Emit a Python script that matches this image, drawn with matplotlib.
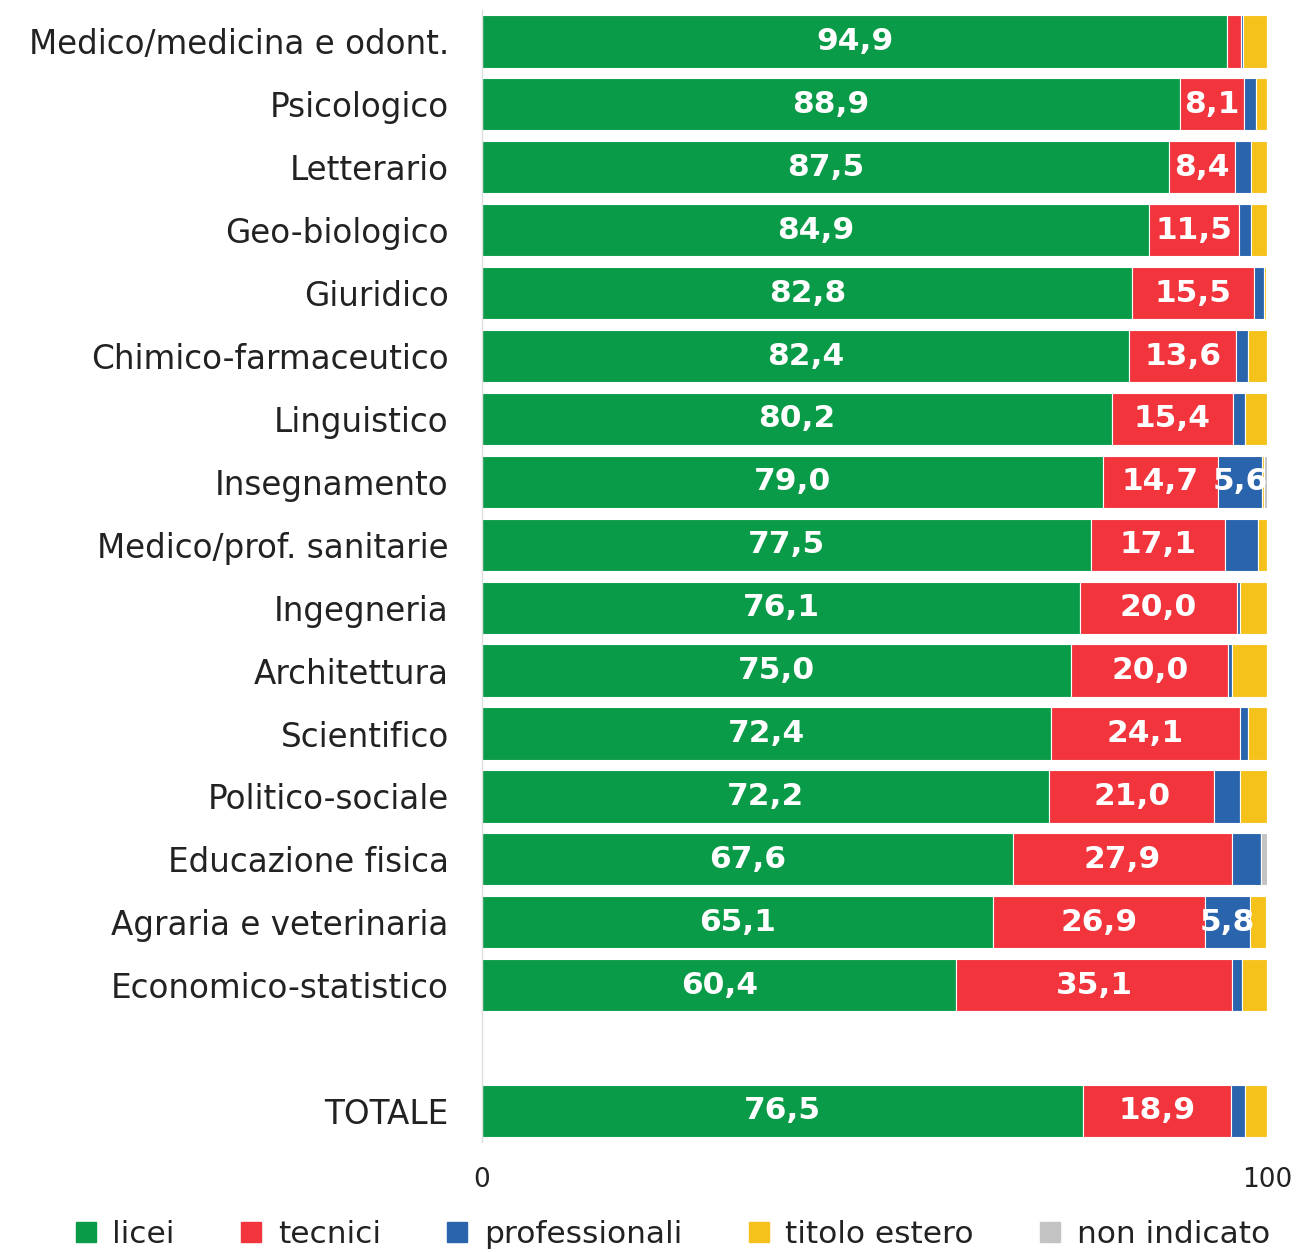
import matplotlib
matplotlib.use("Agg")
import matplotlib.pyplot as plt
from matplotlib.lines import Line2D

categories = ["Medico/medicina e odont.", "Psicologico", "Letterario", "Geo-biologico",
              "Giuridico", "Chimico-farmaceutico", "Linguistico", "Insegnamento",
              "Medico/prof. sanitarie", "Ingegneria", "Architettura", "Scientifico",
              "Politico-sociale", "Educazione fisica", "Agraria e veterinaria",
              "Economico-statistico", "TOTALE"]
licei = [94.9, 88.9, 87.5, 84.9, 82.8, 82.4, 80.2, 79.0, 77.5, 76.1, 75.0, 72.4, 72.2, 67.6, 65.1, 60.4, 76.5]
tecnici = [1.7, 8.1, 8.4, 11.5, 15.5, 13.6, 15.4, 14.7, 17.1, 20.0, 20.0, 24.1, 21.0, 27.9, 26.9, 35.1, 18.9]
professionali = [0.3, 1.6, 2.0, 1.5, 1.2, 1.5, 1.5, 5.6, 4.2, 0.4, 0.5, 1.0, 3.3, 3.7, 5.8, 1.2, 1.8]
titolo_estero = [3.0, 1.3, 2.0, 2.0, 0.3, 2.4, 2.8, 0.2, 1.1, 3.4, 4.4, 2.4, 3.4, 0.0, 2.0, 3.2, 2.7]
non_indicato = [0.1, 0.1, 0.1, 0.1, 0.2, 0.1, 0.1, 0.5, 0.1, 0.1, 0.1, 0.1, 0.1, 0.8, 0.2, 0.1, 0.1]
series_names = ["licei", "tecnici", "professionali", "titolo estero", "non indicato"]
xtick_labels = ["0", "100"]

colors = ["#0a9b48", "#f2353d", "#2a64ad", "#f5c21b", "#c3c3c3"]
series = [licei, tecnici, professionali, titolo_estero, non_indicato]

fig = plt.figure(figsize=(12.96, 12.52), dpi=100)
ax = fig.add_axes([0.372, 0.0875, 0.606, 0.9045])

positions = list(range(16)) + [17]
left = [0.0] * len(categories)
for vals, col in zip(series, colors):
    ax.barh(positions, vals, left=left, height=0.83, color=col,
            edgecolor="white", linewidth=0.8)
    for p, v, l in zip(positions, vals, left):
        if v >= 5:
            ax.text(l + v / 2, p, f"{v:.1f}".replace(".", ","), ha="center", va="center",
                    color="white", fontsize=22.5, fontweight="bold", clip_on=True)
    left = [a + b for a, b in zip(left, vals)]

ax.set_ylim(17.5, -0.5)
ax.set_xlim(0, 100)
ax.set_yticks(positions)
ax.set_yticklabels(categories, fontsize=23.5, color="#222222")
ax.set_xticks([0, 100])
ax.set_xticklabels(xtick_labels, fontsize=19, color="#222222")
ax.tick_params(axis="y", length=0, pad=24)
ax.tick_params(axis="x", length=0, pad=18)
for s in ["top", "right", "bottom"]:
    ax.spines[s].set_visible(False)
ax.spines["left"].set_color("#dddddd")
ax.spines["left"].set_linewidth(1.0)

handles = [Line2D([0], [0], marker="s", linestyle="none", markersize=15,
                  markerfacecolor=c, markeredgecolor=c) for c in colors]
fig.legend(handles, series_names, loc="lower center", ncol=5, fontsize=22.5,
           frameon=False, bbox_to_anchor=(0.517, -0.02), handletextpad=0.35,
           columnspacing=1.95, handlelength=1.0, labelcolor="#222222")

fig.savefig("out.png", dpi=100, facecolor="white")
